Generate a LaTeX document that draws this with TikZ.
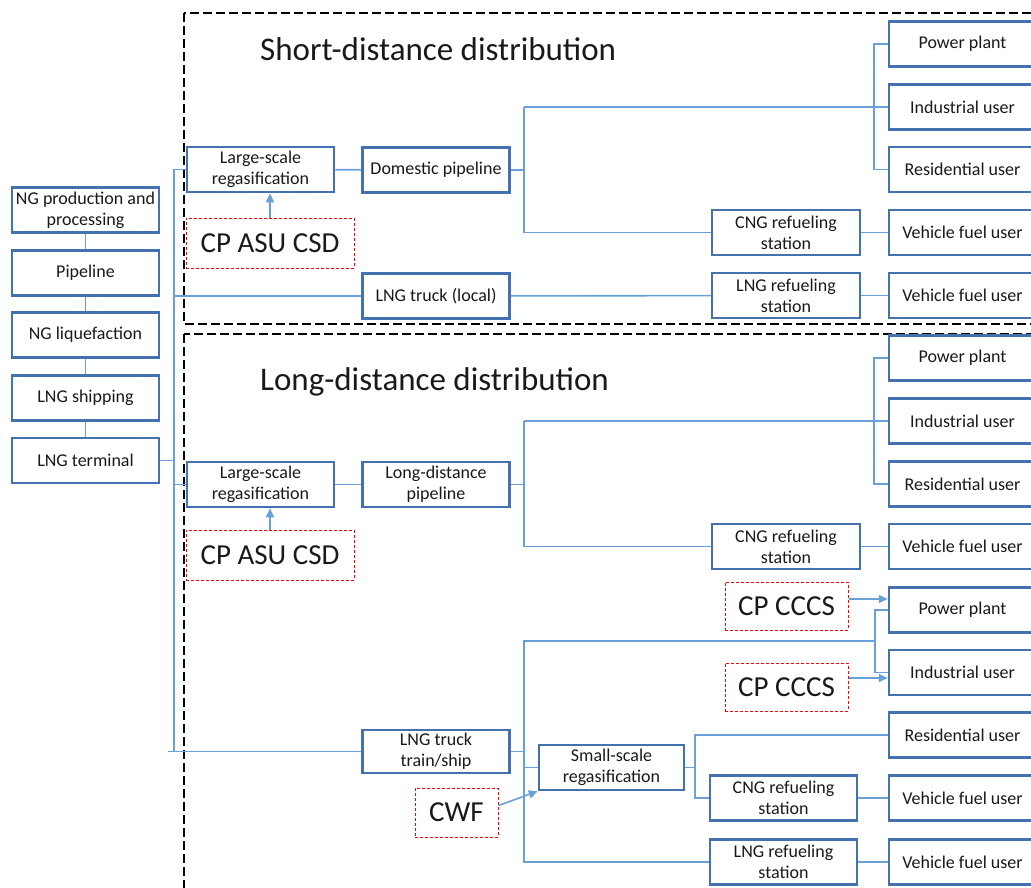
\documentclass[tikz,border=0pt]{standalone}
\usepackage{fontspec}
\setmainfont{Carlito}
\usetikzlibrary{shapes,arrows,arrows.meta,positioning}
\definecolor{boxblue}{RGB}{68,114,176}
\definecolor{lineblue}{RGB}{105,160,215}
\tikzstyle{stage} = [rectangle, draw=boxblue, line width=2.5pt, minimum width=147pt, minimum height=45pt, inner sep=1pt, align=center, text=black!90, font=\fontsize{18}{21}\selectfont]
\tikzstyle{tech} = [rectangle, draw=red, line width=1pt, dash pattern=on 3pt off 2pt, minimum width=168pt, minimum height=50pt, text=black!90, font=\fontsize{29}{34}\selectfont]
\tikzstyle{region} = [black, line width=1.3pt, dash pattern=on 9pt off 4pt]
\tikzstyle{heading} = [anchor=west, inner sep=0pt, text=black!90, font=\fontsize{33}{39}\selectfont]
\tikzstyle{link} = [lineblue, line width=1.6pt]
\tikzstyle{arrow} = [link, -{Triangle[length=9pt,width=8pt]}]

\begin{document}
\begin{tikzpicture}[x=1pt, y=-1pt]
	\useasboundingbox (0,0) rectangle (1031,888);
	\clip (0,0) rectangle (1031,888);
	% dashed frames
	\draw [region] (184,13) rectangle (1070,324);
	\draw [region] (184,334) rectangle (1070,920);
	\node (shorttitle) [heading] at (260,49) {Short-distance distribution};
	\node (longtitle) [heading] at (260,382) {Long-distance distribution};
	% supply chain
	\node (ngprod) [stage] at (85.5,210) {NG production and\\processing};
	\node (pipeline) [stage] at (85.5,273) {Pipeline};
	\node (liquef) [stage] at (85.5,335) {NG liquefaction};
	\node (shipping) [stage] at (85.5,398) {LNG shipping};
	\node (terminal) [stage] at (85.5,460.5) {LNG terminal};
	\draw [link] (ngprod) -- (pipeline);
	\draw [link] (pipeline) -- (liquef);
	\draw [link] (liquef) -- (shipping);
	\draw [link] (shipping) -- (terminal);
	% short-distance
	\node (sregas) [stage] at (260.5,169.5) {Large-scale\\regasification};
	\node (sasu) [tech] at (270,243) {CP ASU CSD};
	\node (dompipe) [stage] at (436,170) {Domestic pipeline};
	\node (spower) [stage] at (962.5,44) {Power plant};
	\node (sindust) [stage] at (962.5,107) {Industrial user};
	\node (sresid) [stage] at (962.5,169.5) {Residential user};
	\node (scng) [stage, minimum width=148pt] at (786,232.5) {CNG refueling\\station};
	\node (svehA) [stage] at (962.5,232.5) {Vehicle fuel user};
	\node (struck) [stage] at (436,296) {LNG truck (local)};
	\node (slng) [stage, minimum width=148pt] at (786,295.5) {LNG refueling\\station};
	\node (svehB) [stage] at (962.5,295.5) {Vehicle fuel user};
	% long-distance
	\node (lregas) [stage] at (260.5,484.5) {Large-scale\\regasification};
	\node (lasu) [tech] at (270,555) {CP ASU CSD};
	\node (ldpipe) [stage] at (436,484.5) {Long-distance\\pipeline};
	\node (lpower) [stage] at (962.5,358) {Power plant};
	\node (lindust) [stage] at (962.5,421) {Industrial user};
	\node (lresid) [stage] at (962.5,484) {Residential user};
	\node (lcng) [stage, minimum width=148pt] at (786,546.5) {CNG refueling\\station};
	\node (lvehA) [stage] at (962.5,546.5) {Vehicle fuel user};
	\node (lccsA) [tech, minimum width=123pt, minimum height=48pt] at (786.5,606) {CP CCCS};
	\node (lpowerB) [stage] at (962.5,610) {Power plant};
	\node (lccsB) [tech, minimum width=123pt, minimum height=48pt] at (786.5,687) {CP CCCS};
	\node (lindustB) [stage] at (962.5,672.5) {Industrial user};
	\node (lresidB) [stage] at (962.5,735) {Residential user};
	\node (ltruck) [stage, minimum height=43pt] at (436,751.5) {LNG truck\\train/ship};
	\node (smallregas) [stage, minimum width=145pt] at (611.5,767.5) {Small-scale\\regasification};
	\node (cwf) [tech, minimum width=83pt, minimum height=49pt] at (456.5,812.5) {CWF};
	\node (lcngB) [stage] at (783.5,798) {CNG refueling\\station};
	\node (lvehB) [stage] at (962.5,798) {Vehicle fuel user};
	\node (llng) [stage] at (783.5,862) {LNG refueling\\station};
	\node (lvehC) [stage] at (962.5,862) {Vehicle fuel user};
	% trunk from the terminal
	\coordinate (trunk) at (174,0);
	\draw [link] (terminal.east) -- (terminal.east -| trunk);
	\draw [link] (sregas.west -| trunk) -- (ltruck.west -| trunk);
	\draw [link] (sregas.west -| trunk) -- (sregas.west);
	\draw [link] (struck.west -| trunk) -- (struck.west);
	\draw [link] (lregas.west -| trunk) -- (lregas.west);
	\draw [link] ([xshift=-6pt]ltruck.west -| trunk) -- (ltruck.west);
	% short-distance links
	\coordinate (splitA) at (524,170);
	\draw [link] (sregas) -- (dompipe);
	\draw [arrow] (sasu.north) -- (sasu.north |- sregas.south);
	\draw [link] (dompipe.east) -- (splitA);
	\draw [link] (sindust.west -| splitA) -- (scng.west -| splitA);
	\draw [link] (sindust.west -| splitA) -- (sindust.west);
	\draw [link] (scng.west -| splitA) -- (scng.west);
	\draw [link] (spower.west) -| ([xshift=-14pt]sindust.west) |- (sresid.west);
	\draw [link] (scng) -- (svehA);
	\draw [link] (struck) -- (slng);
	\draw [link] (slng) -- (svehB);
	% long-distance links
	\coordinate (splitB) at (524,484.5);
	\draw [link] (lregas) -- (ldpipe);
	\draw [arrow] (lasu.north) -- (lasu.north |- lregas.south);
	\draw [link] (ldpipe.east) -- (splitB);
	\draw [link] (lindust.west -| splitB) -- (lcng.west -| splitB);
	\draw [link] (lindust.west -| splitB) -- (lindust.west);
	\draw [link] (lcng.west -| splitB) -- (lcng.west);
	\draw [link] (lpower.west) -| ([xshift=-14pt]lindust.west) |- (lresid.west);
	\draw [link] (lcng) -- (lvehA);
	% truck / train / ship branch
	\coordinate (splitC) at (524,751.5);
	\coordinate (hubC) at (875,641);
	\coordinate (splitD) at (695,767.5);
	\draw [link] (ltruck.east) -- (splitC);
	\draw [link] (splitC) |- (hubC);
	\draw [link] (lpowerB.west) -| (hubC) |- (lindustB.west);
	\draw [link] (splitC) |- (llng.west);
	\draw [link] (smallregas.west -| splitC) -- (smallregas.west);
	\draw [link] (smallregas.east) -- (splitD);
	\draw [link] (lresidB.west) -| (splitD) |- (lcngB.west);
	\draw [link] (lcngB) -- (lvehB);
	\draw [link] (llng) -- (lvehC);
	\draw [arrow] ([yshift=7pt]lccsA.east) -- ([yshift=7pt]lccsA.east -| lpowerB.west);
	\draw [arrow] ([yshift=9pt]lccsB.east) -- ([yshift=9pt]lccsB.east -| lindustB.west);
	\draw [arrow] ([yshift=7pt]cwf.east) -- (smallregas.south west);
\end{tikzpicture}
\end{document}
